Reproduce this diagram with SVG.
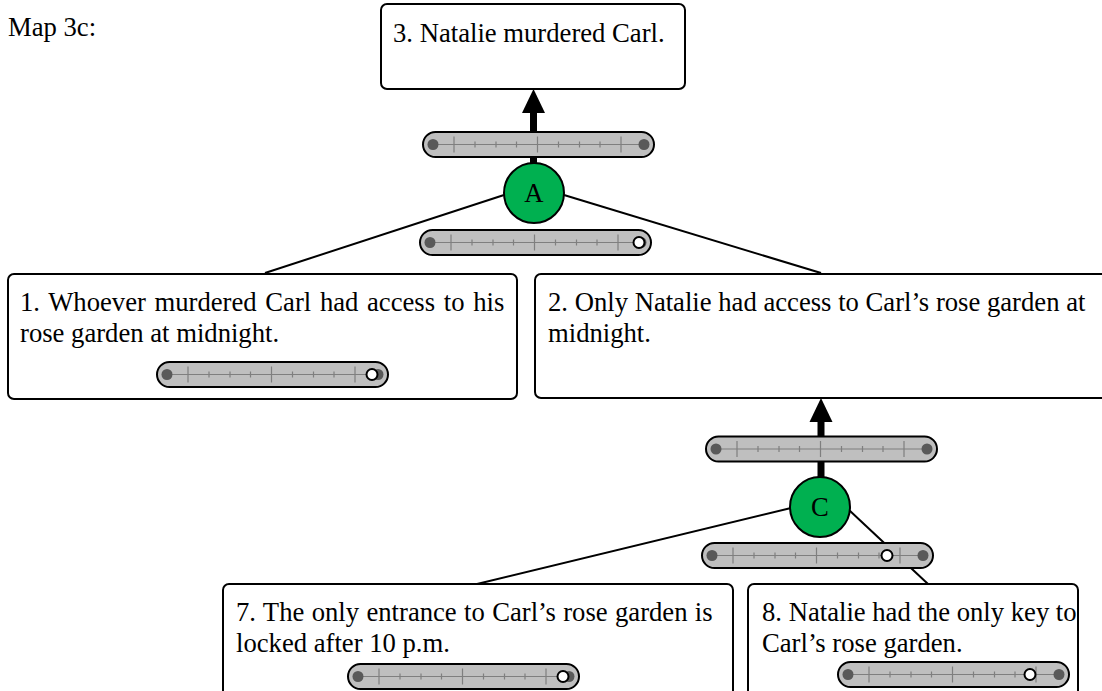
<svg xmlns="http://www.w3.org/2000/svg" xmlns:xlink="http://www.w3.org/1999/xlink" width="1102" height="691" viewBox="0 0 1102 691">
<style>
.box{fill:#fff;stroke:#000;stroke-width:2}
.t{font-family:'Liberation Serif',serif;font-size:26.67px;fill:#000}
.link{stroke:#000;stroke-width:2;fill:none}
.shaft{stroke:#000;stroke-width:7}
.node{fill:#00B050;stroke:#000;stroke-width:2}
.hollow{fill:#fff;stroke:#000;stroke-width:2}
</style>
<defs>
<g id="slider">
<rect x="0" y="-12.5" width="231" height="25" rx="12.5" fill="#BFBFBF" stroke="#000" stroke-width="2"/>
<g stroke="#7F7F7F" stroke-width="1.2">
<line x1="10" y1="0" x2="221" y2="0"/>
<line x1="31" y1="-8" x2="31" y2="8"/>
<line x1="114.5" y1="-8" x2="114.5" y2="8"/>
<line x1="198" y1="-8" x2="198" y2="8"/>
<line x1="52" y1="-3" x2="52" y2="3"/>
<line x1="73" y1="-3" x2="73" y2="3"/>
<line x1="93.5" y1="-3" x2="93.5" y2="3"/>
<line x1="135.5" y1="-3" x2="135.5" y2="3"/>
<line x1="156.5" y1="-3" x2="156.5" y2="3"/>
<line x1="177" y1="-3" x2="177" y2="3"/>
</g>
<circle cx="10" cy="0" r="5.5" fill="#595959"/>
<circle cx="221" cy="0" r="5.5" fill="#595959"/>
</g>
</defs>
<rect width="1102" height="691" fill="#fff"/>
<text class="t" x="8" y="36">Map 3c:</text>

<g id="connectors">
<line class="link" x1="504" y1="195" x2="265" y2="273"/>
<line class="link" x1="564" y1="195" x2="821" y2="273"/>
<line class="link" x1="791" y1="508" x2="477" y2="584"/>
<line class="link" x1="849" y1="510" x2="928" y2="584"/>
<line class="shaft" x1="533.5" y1="165" x2="533.5" y2="111"/>
<polygon points="522,113 545,113 533.5,89"/>
<line class="shaft" x1="821" y1="479" x2="821" y2="420"/>
<polygon points="809.5,422 832.5,422 821,398"/>
</g>

<g id="node3">
<rect class="box" x="381" y="4" width="304" height="85" rx="6"/>
<text class="t" x="393" y="42">3. Natalie murdered Carl.</text>
</g>
<g id="node1">
<rect class="box" x="8" y="274" width="509" height="125" rx="6"/>
<text class="t" x="20" y="311" word-spacing="2">1. Whoever murdered Carl had access to his</text>
<text class="t" x="20" y="342">rose garden at midnight.</text>
<use xlink:href="#slider" href="#slider" x="157" y="374.5"/>
<circle class="hollow" cx="372" cy="374.5" r="5.5"/>
</g>
<g id="node2">
<rect class="box" x="535" y="274" width="580" height="124" rx="6"/>
<text class="t" x="548" y="311">2. Only Natalie had access to Carl’s rose garden at</text>
<text class="t" x="548" y="342">midnight.</text>
</g>
<g id="node7">
<rect class="box" x="223" y="584" width="510" height="120" rx="6"/>
<text class="t" x="236" y="621" word-spacing="0.7">7. The only entrance to Carl’s rose garden is</text>
<text class="t" x="236" y="652">locked after 10 p.m.</text>
<use xlink:href="#slider" href="#slider" x="348" y="676.5"/>
<circle class="hollow" cx="563" cy="676.5" r="5.5"/>
</g>
<g id="node8">
<rect class="box" x="748" y="584" width="330" height="120" rx="6"/>
<text class="t" x="762" y="621">8. Natalie had the only key to</text>
<text class="t" x="762" y="652">Carl’s rose garden.</text>
<use xlink:href="#slider" href="#slider" x="838" y="674.5"/>
<circle class="hollow" cx="1030" cy="674.5" r="5.5"/>
</g>

<g id="sliderA-top"><use xlink:href="#slider" href="#slider" x="423" y="144.5"/></g>
<g id="sliderA-bottom">
<use xlink:href="#slider" href="#slider" x="420" y="242.5"/>
<circle class="hollow" cx="639" cy="242.5" r="5.5"/>
</g>
<g id="sliderC-top"><use xlink:href="#slider" href="#slider" x="706" y="449"/></g>
<g id="sliderC-bottom">
<use xlink:href="#slider" href="#slider" x="702" y="555.5"/>
<circle class="hollow" cx="887" cy="555.5" r="5.5"/>
</g>

<g id="nodeA">
<circle class="node" cx="534" cy="193" r="30"/>
<text class="t" x="534" y="202" text-anchor="middle">A</text>
</g>
<g id="nodeC">
<circle class="node" cx="820" cy="507" r="30"/>
<text class="t" x="820" y="516" text-anchor="middle">C</text>
</g>
</svg>
